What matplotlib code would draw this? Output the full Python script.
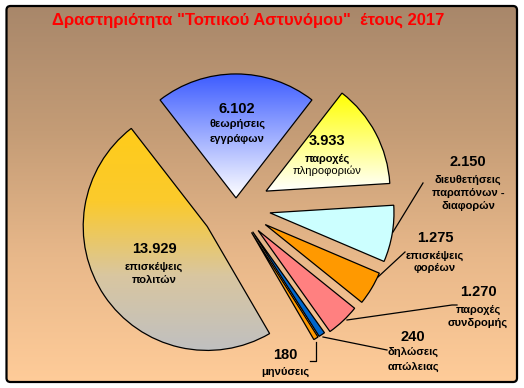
import numpy as np
import matplotlib
matplotlib.use('Agg')
import matplotlib.pyplot as plt
from matplotlib.patches import FancyBboxPatch
from matplotlib.colors import LinearSegmentedColormap

plt.rcParams['font.family'] = ['Liberation Sans', 'DejaVu Sans']

title = 'Δραστηριότητα "Τοπικού Αστυνόμου"  έτους 2017'
# counter-clockwise order, starting with the top slice
values = [6102, 13929, 180, 240, 1270, 1275, 2150, 3933]
value_labels = ['6.102', '13.929', '180', '240', '1.270', '1.275', '2.150', '3.933']
categories = ['θεωρήσεις\nεγγράφων', 'επισκέψεις\nπολιτών', 'μηνύσεις',
              'δηλώσεις\nαπώλειας', 'παροχές\nσυνδρομής', 'επισκέψεις\nφορέων',
              'διευθετήσεις\nπαραπόνων -\nδιαφορών', 'παροχές\nπληροφοριών']

explode_frac = [0.073, 0.28, 0.24, 0.24, 0.26, 0.275, 0.278, 0.274]
fills = [['#3d5cff', '#ffffff'],
         ['#ffcc1a', '#fbca2c', '#d9c6a0', '#c0c0c0'],
         ['#ff9900'], ['#0066cc'], ['#ff8080'], ['#ff9900'], ['#ccffff'],
         ['#ffff00', '#ffffff']]

W, H = 524, 388
fig = plt.figure(figsize=(W / 100, H / 100), dpi=100)
ax = fig.add_axes([0, 0, 1, 1])
ax.set_axis_off()

# background frame with gradient
frame = FancyBboxPatch((6.5, 6), W - 13.5, H - 12,
                       boxstyle='round,pad=0,rounding_size=4',
                       facecolor='none', edgecolor='black', lw=1.6, zorder=3)
ax.add_patch(frame)
bg_cmap = LinearSegmentedColormap.from_list('bg', ['#a8876a', '#c49c76', '#e8b88a', '#ffcc99'])
bg = ax.imshow(np.linspace(0, 1, 256).reshape(-1, 1), cmap=bg_cmap, aspect='auto',
               extent=(5, W - 5, 5, H - 5), origin='upper', zorder=0)
bg_clip = FancyBboxPatch((6.5, 6), W - 13.5, H - 12, boxstyle='round,pad=0,rounding_size=4',
                         transform=ax.transData, facecolor='none', edgecolor='none')
ax.add_patch(bg_clip)
bg.set_clip_path(bg_clip)

cx, cy, R = 236, H - 207, 124
start = 90 - values[0] / sum(values) * 360 / 2
wedges, _ = ax.pie(values, explode=[e * R for e in explode_frac], startangle=start,
                   counterclock=True, center=(cx, cy), radius=R, frame=True,
                   wedgeprops=dict(edgecolor='black', linewidth=0.9, facecolor='none'))
for w, cols in zip(wedges, fills):
    w.set_zorder(4)
    if len(cols) == 1:
        w.set_facecolor(cols[0])
        continue
    ext = w.get_path().get_extents()
    cm = LinearSegmentedColormap.from_list('g', cols)
    im = ax.imshow(np.linspace(0, 1, 256).reshape(-1, 1), cmap=cm, aspect='auto',
                   extent=(ext.x0, ext.x1, ext.y0, ext.y1), origin='upper', zorder=2)
    im.set_clip_path(w)

ax.set_xlim(0, W)
ax.set_ylim(0, H)
ax.set_aspect('auto')

ax.text(248, H - 20, title, color='#ff0000', fontsize=12, fontweight='bold',
        ha='center', va='center', zorder=6)

def lab(x, y_num, y_txt, i, extra=None):
    ax.text(x, H - y_num, value_labels[i], fontsize=10.5, fontweight='bold',
            ha='center', va='center', zorder=6)
    lines = categories[i].split('\n')
    for k, ln in enumerate(lines):
        wt = 'bold'
        if extra is not None and k in extra:
            wt = 'normal'
        ax.text(x, H - y_txt[k], ln, fontsize=8, fontweight=wt,
                ha='center', va='center', zorder=6)

lab(237, 109, [124, 139], 0)
lab(154, 249, [267, 280], 1)
lab(285, 355, [372], 2)
lab(413, 337, [352, 367], 3)
lab(478, 292, [310, 323], 4)
lab(435, 238, [256, 268], 5)
lab(468, 162, [180, 193, 206], 6)
lab(327, 141, [159, 171], 7, extra=[1])

# leader lines
leaders = [
    [(423, 183), (393, 232)],
    [(405, 252), (378, 277)],
    [(457, 305), (452, 305), (347, 320)],
    [(387, 350), (323, 337)],
    [(310, 361), (316, 361), (316, 342)],
]
for pts in leaders:
    xs = [p[0] for p in pts]
    ys = [H - p[1] for p in pts]
    ax.plot(xs, ys, color='black', lw=0.9, zorder=5)

fig.savefig('out.png', dpi=100, facecolor='white')
